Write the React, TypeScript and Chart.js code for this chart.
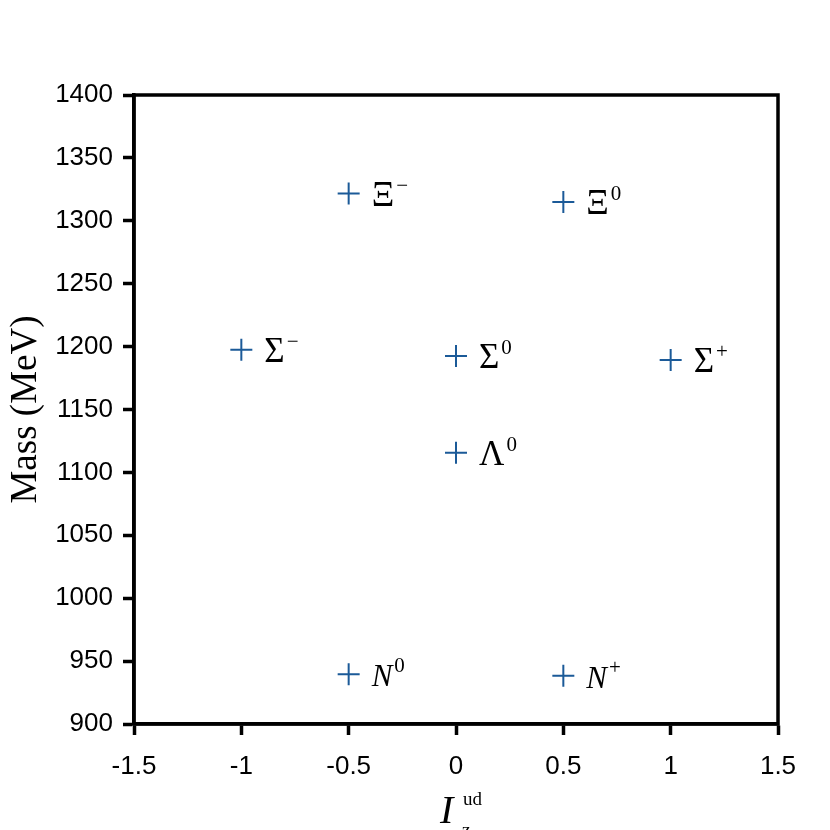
import React, { useEffect, useRef } from "react";
import { Chart, registerables } from "chart.js";

Chart.register(...registerables);

const isospin = [-0.5, 0.5, -1, 0, 1, 0, -0.5, 0.5];
const masses = [1321.7, 1314.9, 1197.4, 1192.6, 1189.4, 1115.7, 939.6, 938.3];
const symbols = ["Ξ", "Ξ", "Σ", "Σ", "Σ", "Λ", "N", "N"];
const charges = ["−", "0", "−", "0", "+", "0", "0", "+"];
const italicSymbol = [false, false, false, false, false, false, true, true];
const xTicks = [-1.5, -1, -0.5, 0, 0.5, 1, 1.5];
const yTicks = [900, 950, 1000, 1050, 1100, 1150, 1200, 1250, 1300, 1350, 1400];

const SERIF = '"Liberation Serif", "DejaVu Serif", serif';
const SANS = '"Liberation Sans", Arial, sans-serif';

const decorPlugin = {
  id: "decor",
  afterDatasetsDraw(chart: any) {
    const ctx = chart.ctx;
    const area = chart.chartArea;
    const meta = chart.getDatasetMeta(0);
    ctx.save();
    // box border
    ctx.strokeStyle = "#000";
    ctx.lineWidth = 3.5;
    ctx.strokeRect(area.left, area.top, area.right - area.left, area.bottom - area.top);

    // point labels
    ctx.fillStyle = "#000";
    ctx.textBaseline = "alphabetic";
    ctx.textAlign = "left";
    meta.data.forEach((el: any, i: number) => {
      const x = el.x + 23;
      const y = el.y + 12;
      const size = italicSymbol[i] ? 31 : 35;
      ctx.font = (italicSymbol[i] ? "italic " : "") + size + "px " + SERIF;
      ctx.fillText(symbols[i], x, y);
      const w = ctx.measureText(symbols[i]).width;
      ctx.font = "21px " + SERIF;
      ctx.fillText(charges[i], x + w + 2, y - 14);
    });

    // y title
    ctx.save();
    ctx.translate(36, (area.top + area.bottom) / 2);
    ctx.rotate(-Math.PI / 2);
    ctx.textAlign = "center";
    ctx.textBaseline = "alphabetic";
    ctx.font = "37px " + SERIF;
    ctx.fillText("Mass (MeV)", 0, 0);
    ctx.restore();

    // x title
    ctx.textAlign = "left";
    ctx.font = "italic 40px " + SERIF;
    ctx.fillText("I", 440, 823);
    ctx.font = "19px " + SERIF;
    ctx.fillText("ud", 463, 805);
    ctx.fillText("z", 462, 836);
    ctx.restore();
  },
};

export default function App() {
  const ref = useRef<HTMLCanvasElement>(null);
  useEffect(() => {
    if (!ref.current) return;
    const chart = new Chart(ref.current, {
      type: "scatter",
      data: {
        datasets: [
          {
            data: isospin.map((x, i) => ({ x, y: masses[i] })),
            pointStyle: "cross",
            pointRadius: 11,
            pointHoverRadius: 11,
            borderColor: "#1b5a98",
            backgroundColor: "#1b5a98",
            pointBorderWidth: 2,
          },
        ],
      },
      options: {
        animation: false,
        responsive: false,
        events: [],
        layout: { padding: { left: 0, top: 95, right: 52, bottom: 0 } },
        plugins: { legend: { display: false }, tooltip: { enabled: false } },
        scales: {
          x: {
            type: "linear",
            min: -1.5,
            max: 1.5,
            afterBuildTicks: (s: any) => {
              s.ticks = xTicks.map((v) => ({ value: v }));
            },
            afterFit: (s: any) => {
              s.height = 106;
            },
            grid: { drawOnChartArea: false, drawTicks: true, tickLength: 11, tickWidth: 3.5, tickColor: "#000" },
            border: { display: true, color: "#000", width: 3.5 },
            ticks: {
              color: "#000",
              font: { family: SANS, size: 26 },
              padding: 16,
              maxRotation: 0,
              callback: (v: any) => String(v),
            },
          },
          y: {
            type: "linear",
            min: 900,
            max: 1400,
            afterBuildTicks: (s: any) => {
              s.ticks = yTicks.map((v) => ({ value: v }));
            },
            afterFit: (s: any) => {
              s.width = 134;
            },
            grid: { drawOnChartArea: false, drawTicks: true, tickLength: 11, tickWidth: 3.5, tickColor: "#000" },
            border: { display: true, color: "#000", width: 3.5 },
            ticks: {
              color: "#000",
              font: { family: SANS, size: 26 },
              padding: 10,
              callback: (v: any) => String(v),
            },
          },
        },
      },
      plugins: [decorPlugin],
    });
    return () => chart.destroy();
  }, []);
  return (
    <div style={{ position: "absolute", left: 0, top: 0, width: 830, height: 830, background: "#fff" }}>
      <canvas ref={ref} width={830} height={830} style={{ display: "block" }} />
    </div>
  );
}
